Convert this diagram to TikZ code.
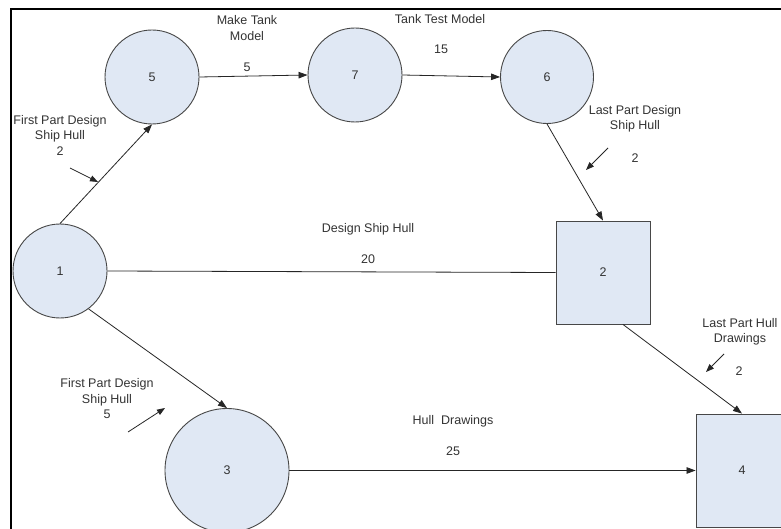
\documentclass[tikz,border=0pt]{standalone}
\usepackage{fontspec}
\setmainfont{Liberation Sans}
\usetikzlibrary{arrows.meta}
\definecolor{evtfill}{HTML}{E0E8F4}
\definecolor{ink}{HTML}{333333}
\definecolor{edge}{HTML}{262626}
\begin{document}
\begin{tikzpicture}[x=1pt,y=-1pt,
  lbl/.style={font=\fontsize{12.5}{15.5}\selectfont, text=ink, align=center, inner sep=0pt},
  evt/.style={circle, draw=edge!85, fill=evtfill, line width=0.9pt, inner sep=0pt,
              font=\fontsize{12.5}{15}\selectfont, text=ink},
  milestone/.style={rectangle, draw=edge!85, fill=evtfill, line width=0.9pt, inner sep=0pt,
              font=\fontsize{12.5}{15}\selectfont, text=ink},
  act/.style={draw=edge, line width=0.8pt, -{Triangle[length=9pt,width=6.5pt]}},
  plain/.style={draw=edge, line width=0.8pt},
  pointer/.style={draw=edge, line width=0.8pt, -{Triangle[length=8pt,width=6pt]}}]
\useasboundingbox (0,0) rectangle (781,529);
\clip (0,0) rectangle (781,529);
\fill[white] (0,0) rectangle (781,529);

% frame
\draw[line width=2.6pt, black] (11,535) -- (11,9) -- (790,9);

% events
\node[evt, minimum size=94pt] (n5) at (152,77) {5};
\node[evt, minimum size=94pt] (n7) at (355,75) {7};
\node[evt, minimum size=93pt] (n6) at (547,77) {6};
\node[evt, minimum size=94pt] (n1) at (60,271) {1};
\node[evt, minimum size=124pt] (n3) at (227,470.5) {3};
\node[milestone, minimum width=94pt, minimum height=103pt] (n2) at (603,272.5) {2};
\node[milestone, minimum width=92pt, minimum height=113pt] (n4) at (742,470.5) {4};

% activities
\draw[act] (n1.north) -- (n5.south);
\draw[act] (n5.east) -- (n7.west);
\draw[act] (n7.east) -- (n6.west);
\draw[act] (n6.south) -- (n2.north);
\draw[plain] (n1.east) -- (n2.west);
\draw[act] (n1.-53) -- (n3.north);
\draw[act] (n2.-69) -- (n4.north);
\draw[act] (n3.east) -- (n4.west);

% activity labels
\node[lbl] (tMake) at (247,28) {Make Tank\\Model};
\node[lbl] (dMake) at (247,67) {5};
\node[lbl] (tTest) at (440,19) {Tank Test Model};
\node[lbl] (dTest) at (441,49) {15};
\node[lbl] (tFirstA) at (60,135) {First Part Design\\Ship Hull\\2};
\node[lbl] (tLastA) at (635,119) {Last Part Design\\Ship Hull};
\node[lbl] (dLastA) at (635,158) {2};
\node[lbl] (tDesign) at (368,229) {Design Ship Hull};
\node[lbl] (dDesign) at (368,259) {20};
\node[lbl] (tLastB) at (740,332) {Last Part Hull\\Drawings};
\node[lbl] (dLastB) at (739,371) {2};
\node[lbl] (tFirstB) at (107,399) {First Part Design\\Ship Hull\\5};
\node[lbl] (tHull) at (453,421) {Hull\ \ Drawings};
\node[lbl] (dHull) at (453,451) {25};

% pointers from labels to their activities
\coordinate (p1s) at (70,168);  \coordinate (p1e) at (98,182);
\coordinate (p2s) at (608,148); \coordinate (p2e) at (586,170);
\coordinate (p3s) at (724,354); \coordinate (p3e) at (706,372);
\coordinate (p4s) at (128,432); \coordinate (p4e) at (165,408);
\draw[pointer] (p1s) -- (p1e);
\draw[pointer] (p2s) -- (p2e);
\draw[pointer] (p3s) -- (p3e);
\draw[pointer] (p4s) -- (p4e);
\end{tikzpicture}
\end{document}
